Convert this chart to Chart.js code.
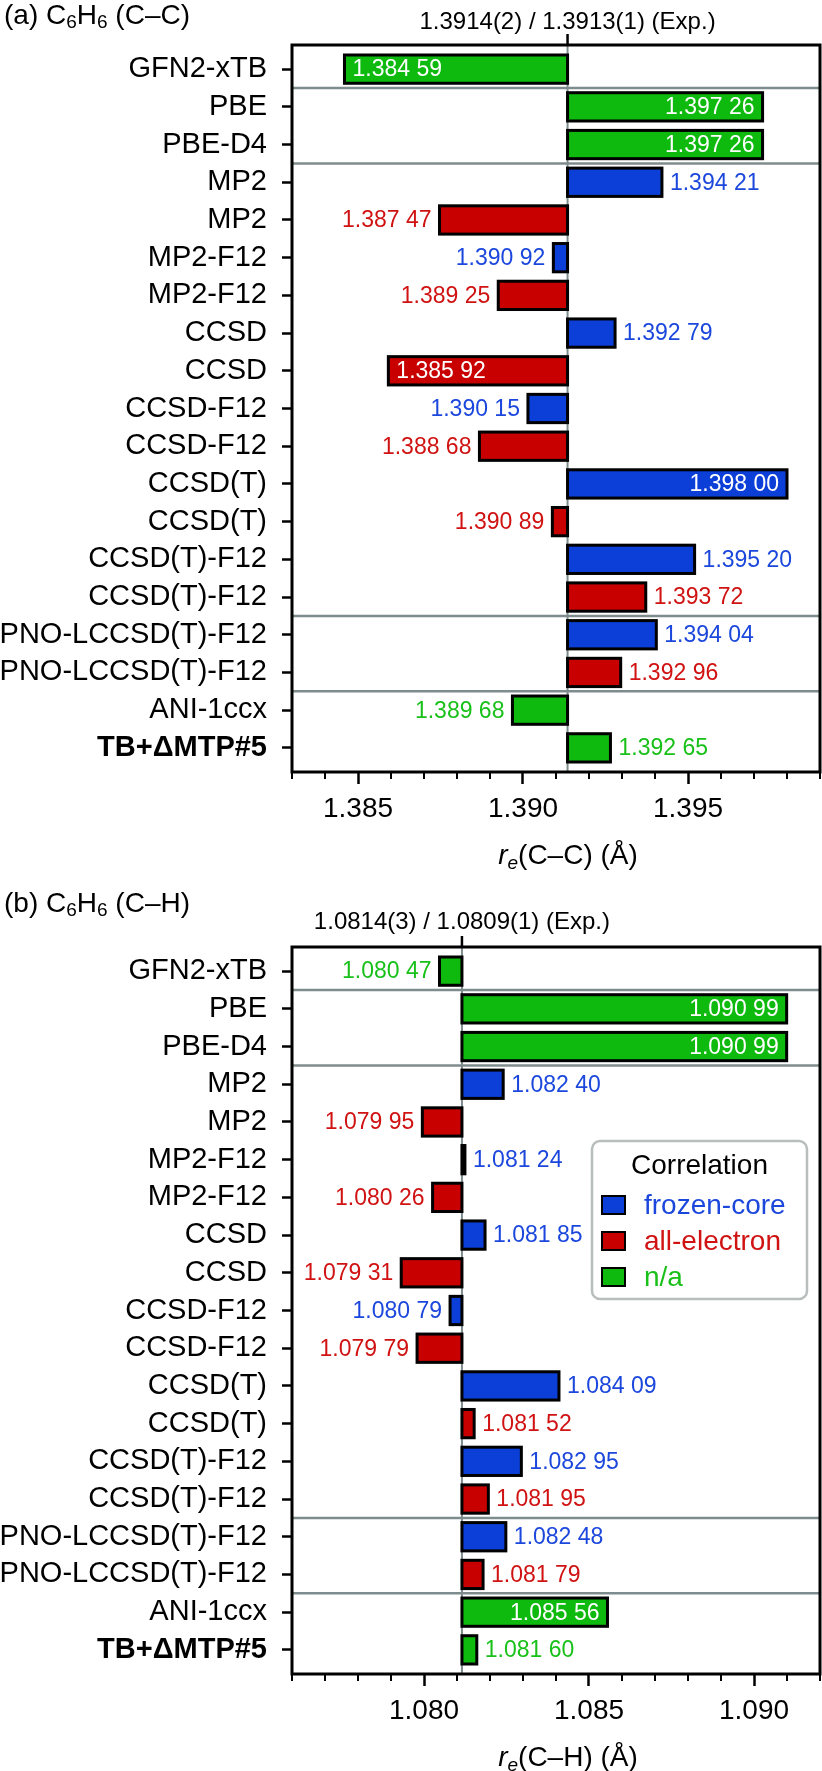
<!DOCTYPE html>
<html>
<head>
<meta charset="utf-8">
<script src="https://cdn.jsdelivr.net/npm/chart.js@4.4.1/dist/chart.umd.min.js"></script>
<style>
  html, body { margin: 0; padding: 0; background: #fff; }
  .panel { position: relative; width: 822px; }
  #p1 { height: 880px; }
  #p2 { height: 891px; }
</style>
</head>
<body>
<div class="panel" id="p1"><canvas id="cc"></canvas></div>
<div class="panel" id="p2"><canvas id="ch"></canvas></div>
<script>
Chart.defaults.font.family = "'Liberation Sans', Arial, sans-serif";
Chart.defaults.color = '#000';

// methods, top to bottom
const methods = ['GFN2-xTB', 'PBE', 'PBE-D4', 'MP2', 'MP2', 'MP2-F12', 'MP2-F12', 'CCSD', 'CCSD',
  'CCSD-F12', 'CCSD-F12', 'CCSD(T)', 'CCSD(T)', 'CCSD(T)-F12', 'CCSD(T)-F12',
  'PNO-LCCSD(T)-F12', 'PNO-LCCSD(T)-F12', 'ANI-1ccx', 'TB+ΔMTP#5'];
const families = ['sqm', 'dft', 'dft', 'wf', 'wf', 'wf', 'wf', 'wf', 'wf', 'wf', 'wf', 'wf', 'wf', 'wf', 'wf',
  'pno', 'pno', 'ml', 'ml'];
const correlation = ['na', 'na', 'na', 'fc', 'ae', 'fc', 'ae', 'fc', 'ae', 'fc', 'ae', 'fc', 'ae', 'fc', 'ae',
  'fc', 'ae', 'na', 'na'];

// r_e in Angstrom
const ccBond = [1.38459, 1.39726, 1.39726, 1.39421, 1.38747, 1.39092, 1.38925, 1.39279, 1.38592,
  1.39015, 1.38868, 1.39800, 1.39089, 1.39520, 1.39372, 1.39404, 1.39296, 1.38968, 1.39265];
const chBond = [1.08047, 1.09099, 1.09099, 1.08240, 1.07995, 1.08124, 1.08026, 1.08185, 1.07931,
  1.08079, 1.07979, 1.08409, 1.08152, 1.08295, 1.08195, 1.08248, 1.08179, 1.08556, 1.08160];

const ccExp = [1.3914, 1.3913];
const ccExpText = ['1.3914(2)', '1.3913(1)'];
const chExp = [1.0814, 1.0809];
const chExpText = ['1.0814(3)', '1.0809(1)'];

const ccTicks = [1.385, 1.390, 1.395];
const chTicks = [1.080, 1.085, 1.090];

const kinds = ['fc', 'ae', 'na'];
const kindNames = { fc: 'frozen-core', ae: 'all-electron', na: 'n/a' };
const fill = { fc: '#0b3fd8', ae: '#c80000', na: '#0dba0d' };
const ink = { fc: '#1b47dc', ae: '#d01212', na: '#19c019' };
const sepColor = '#7f8c8d';
const FONT = "'Liberation Sans', Arial, sans-serif";

function fmt(v) {
  const s = v.toFixed(5);
  return s.slice(0, -2) + ' ' + s.slice(-2);
}

function rich(ctx, parts, x, y, align) {
  let w = 0;
  for (const p of parts) {
    ctx.font = (p.it ? 'italic ' : '') + p.size + 'px ' + FONT;
    p.w = ctx.measureText(p.t).width;
    w += p.w;
  }
  let cx = align === 'center' ? x - w / 2 : x;
  ctx.textAlign = 'left';
  ctx.textBaseline = 'alphabetic';
  for (const p of parts) {
    ctx.font = (p.it ? 'italic ' : '') + p.size + 'px ' + FONT;
    ctx.fillText(p.t, cx, y + (p.dy || 0));
    cx += p.w;
  }
}

function line(ctx, x1, y1, x2, y2) {
  ctx.beginPath(); ctx.moveTo(x1, y1); ctx.lineTo(x2, y2); ctx.stroke();
}

function deco(cfg) {
  return {
    id: 'deco',
    beforeDatasetsDraw(chart) {
      const { ctx, chartArea: a, scales: { x, y } } = chart;
      ctx.save();
      ctx.strokeStyle = sepColor;
      ctx.lineWidth = 2.5;
      for (let i = 1; i < families.length; i++) {
        if (families[i] !== families[i - 1]) {
          const py = y.getPixelForValue(i - 0.5);
          line(ctx, a.left, py, a.right, py);
        }
      }
      const bx = x.getPixelForValue(cfg.base);
      ctx.lineWidth = 2;
      line(ctx, bx, a.top, bx, a.bottom);
      ctx.restore();
    },
    afterDatasetsDraw(chart) {
      const { ctx, scales: { x, y } } = chart;
      ctx.save();
      // bar outlines, centred on the bar edges
      ctx.strokeStyle = '#000';
      ctx.lineWidth = 3;
      chart.getDatasetMeta(0).data.forEach(el => {
        const p = el.getProps(['x', 'y', 'base', 'height'], true);
        const x0 = Math.min(p.x, p.base), w = Math.abs(p.x - p.base);
        ctx.strokeRect(x0, p.y - p.height / 2, w, p.height);
      });
      // value labels
      ctx.font = '23px ' + FONT;
      ctx.textBaseline = 'middle';
      const pb = x.getPixelForValue(cfg.base);
      cfg.values.forEach((v, i) => {
        const px = x.getPixelForValue(v);
        const py = y.getPixelForValue(i) + 1;
        const right = v >= cfg.base;
        const inside = Math.abs(px - pb) > 135;
        if (inside) {
          ctx.fillStyle = '#fff';
          ctx.textAlign = right ? 'right' : 'left';
          ctx.fillText(fmt(v), right ? px - 8 : px + 8, py);
        } else {
          ctx.fillStyle = ink[correlation[i]];
          ctx.textAlign = right ? 'left' : 'right';
          ctx.fillText(fmt(v), right ? px + 8 : px - 8, py);
        }
      });
      ctx.restore();
    },
    afterDraw(chart) {
      const { ctx, chartArea: a, scales: { x } } = chart;
      ctx.save();
      ctx.strokeStyle = '#000';
      ctx.fillStyle = '#000';
      // frame
      ctx.lineWidth = 3;
      ctx.strokeRect(a.left, a.top, a.right - a.left, a.bottom - a.top);
      // minor ticks
      ctx.lineWidth = 2;
      const k0 = Math.round(cfg.range[0] * 1000), k1 = Math.round(cfg.range[1] * 1000);
      for (let k = k0; k <= k1; k++) {
        if (k % 5 === 0) continue;
        const px = x.getPixelForValue(k / 1000);
        line(ctx, px, a.bottom, px, a.bottom + 7);
      }
      // experimental reference
      const bx = x.getPixelForValue(cfg.base);
      ctx.lineWidth = 2.5;
      line(ctx, bx, a.top - 11, bx, a.top);
      ctx.font = '24px ' + FONT;
      ctx.textAlign = 'center';
      ctx.textBaseline = 'alphabetic';
      ctx.fillText(cfg.expText[0] + ' / ' + cfg.expText[1] + ' (Exp.)', bx, cfg.expY);
      // panel title
      rich(ctx, [
        { t: cfg.title[0] + ' C', size: 28 },
        { t: '6', size: 19, dy: 4 },
        { t: 'H', size: 28 },
        { t: '6', size: 19, dy: 4 },
        { t: ' (' + cfg.title[1] + ')', size: 28 }
      ], 4, cfg.titleY, 'left');
      // axis title
      rich(ctx, [
        { t: 'r', size: 28, it: true },
        { t: 'e', size: 19, it: true, dy: 5 },
        { t: '(' + cfg.title[1] + ') (Å)', size: 28 }
      ], (a.left + a.right) / 2 + 12, a.bottom + 92, 'center');
      // legend
      if (cfg.legend) {
        const L = cfg.legend;
        ctx.beginPath();
        ctx.roundRect(L.x, L.y, L.w, L.h, 8);
        ctx.fillStyle = 'rgba(255,255,255,0.85)';
        ctx.fill();
        ctx.strokeStyle = '#b8bebe';
        ctx.lineWidth = 2.5;
        ctx.stroke();
        ctx.fillStyle = '#000';
        ctx.font = '28px ' + FONT;
        ctx.textAlign = 'center';
        ctx.textBaseline = 'middle';
        ctx.fillText('Correlation', L.x + L.w / 2, L.y + 25);
        kinds.forEach((k, j) => {
          const cy = L.y + 64 + j * 36;
          ctx.fillStyle = fill[k];
          ctx.fillRect(L.x + 10, cy - 9, 23, 18);
          ctx.strokeStyle = '#000';
          ctx.lineWidth = 2;
          ctx.strokeRect(L.x + 10, cy - 9, 23, 18);
          ctx.fillStyle = ink[k];
          ctx.textAlign = 'left';
          ctx.fillText(kindNames[k], L.x + 52, cy + 1);
        });
      }
      ctx.restore();
    }
  };
}

function makeChart(cfg) {
  cfg.base = (cfg.exp[0] + cfg.exp[1]) / 2;
  const last = methods.length - 1;
  return new Chart(document.getElementById(cfg.canvas), {
    type: 'bar',
    data: {
      datasets: [{
        data: cfg.values.map((v, i) => ({ x: [cfg.base, v], y: i })),
        backgroundColor: correlation.map(k => fill[k]),
        borderWidth: 0,
        barPercentage: 0.75,
        categoryPercentage: 1
      }]
    },
    options: {
      indexAxis: 'y',
      responsive: true,
      maintainAspectRatio: false,
      animation: false,
      layout: { padding: { top: cfg.padTop, right: 2, left: 0, bottom: 0 } },
      plugins: { legend: { display: false }, tooltip: { enabled: false } },
      scales: {
        x: {
          type: 'linear',
          min: cfg.range[0],
          max: cfg.range[1],
          afterBuildTicks: s => { s.ticks = cfg.ticks.map(v => ({ value: v })); },
          afterFit: s => { s.height = cfg.xh; },
          ticks: { callback: v => v.toFixed(3), font: { size: 28 }, color: '#000', padding: 8, maxRotation: 0, autoSkip: false },
          grid: { drawOnChartArea: false, tickLength: 12, tickWidth: 2.5, tickColor: '#000' },
          border: { display: false }
        },
        y: {
          type: 'linear',
          reverse: true,
          offset: false,
          min: -0.64,
          max: last + 0.64,
          afterBuildTicks: s => { s.ticks = methods.map((_, i) => ({ value: i })); },
          afterFit: s => { s.width = 292; },
          ticks: {
            callback: v => methods[v],
            font: c => ({ size: 29, weight: c.index === last ? 'bold' : 'normal' }),
            color: '#000',
            padding: 15,
            autoSkip: false
          },
          grid: { drawOnChartArea: false, offset: false, tickLength: 10, tickWidth: 2.5, tickColor: '#000' },
          border: { display: false }
        }
      }
    },
    plugins: [deco(cfg)]
  });
}

makeChart({
  canvas: 'cc', values: ccBond, exp: ccExp, expText: ccExpText,
  range: [1.383, 1.399], ticks: ccTicks, title: ['(a)', 'C–C'],
  padTop: 45, xh: 108, titleY: 24, expY: 29, legend: null
});
makeChart({
  canvas: 'ch', values: chBond, exp: chExp, expText: chExpText,
  range: [1.076, 1.092], ticks: chTicks, title: ['(b)', 'C–H'],
  padTop: 67, xh: 97, titleY: 32, expY: 49,
  legend: { x: 592, y: 261, w: 215, h: 158 }
});
</script>
</body>
</html>
